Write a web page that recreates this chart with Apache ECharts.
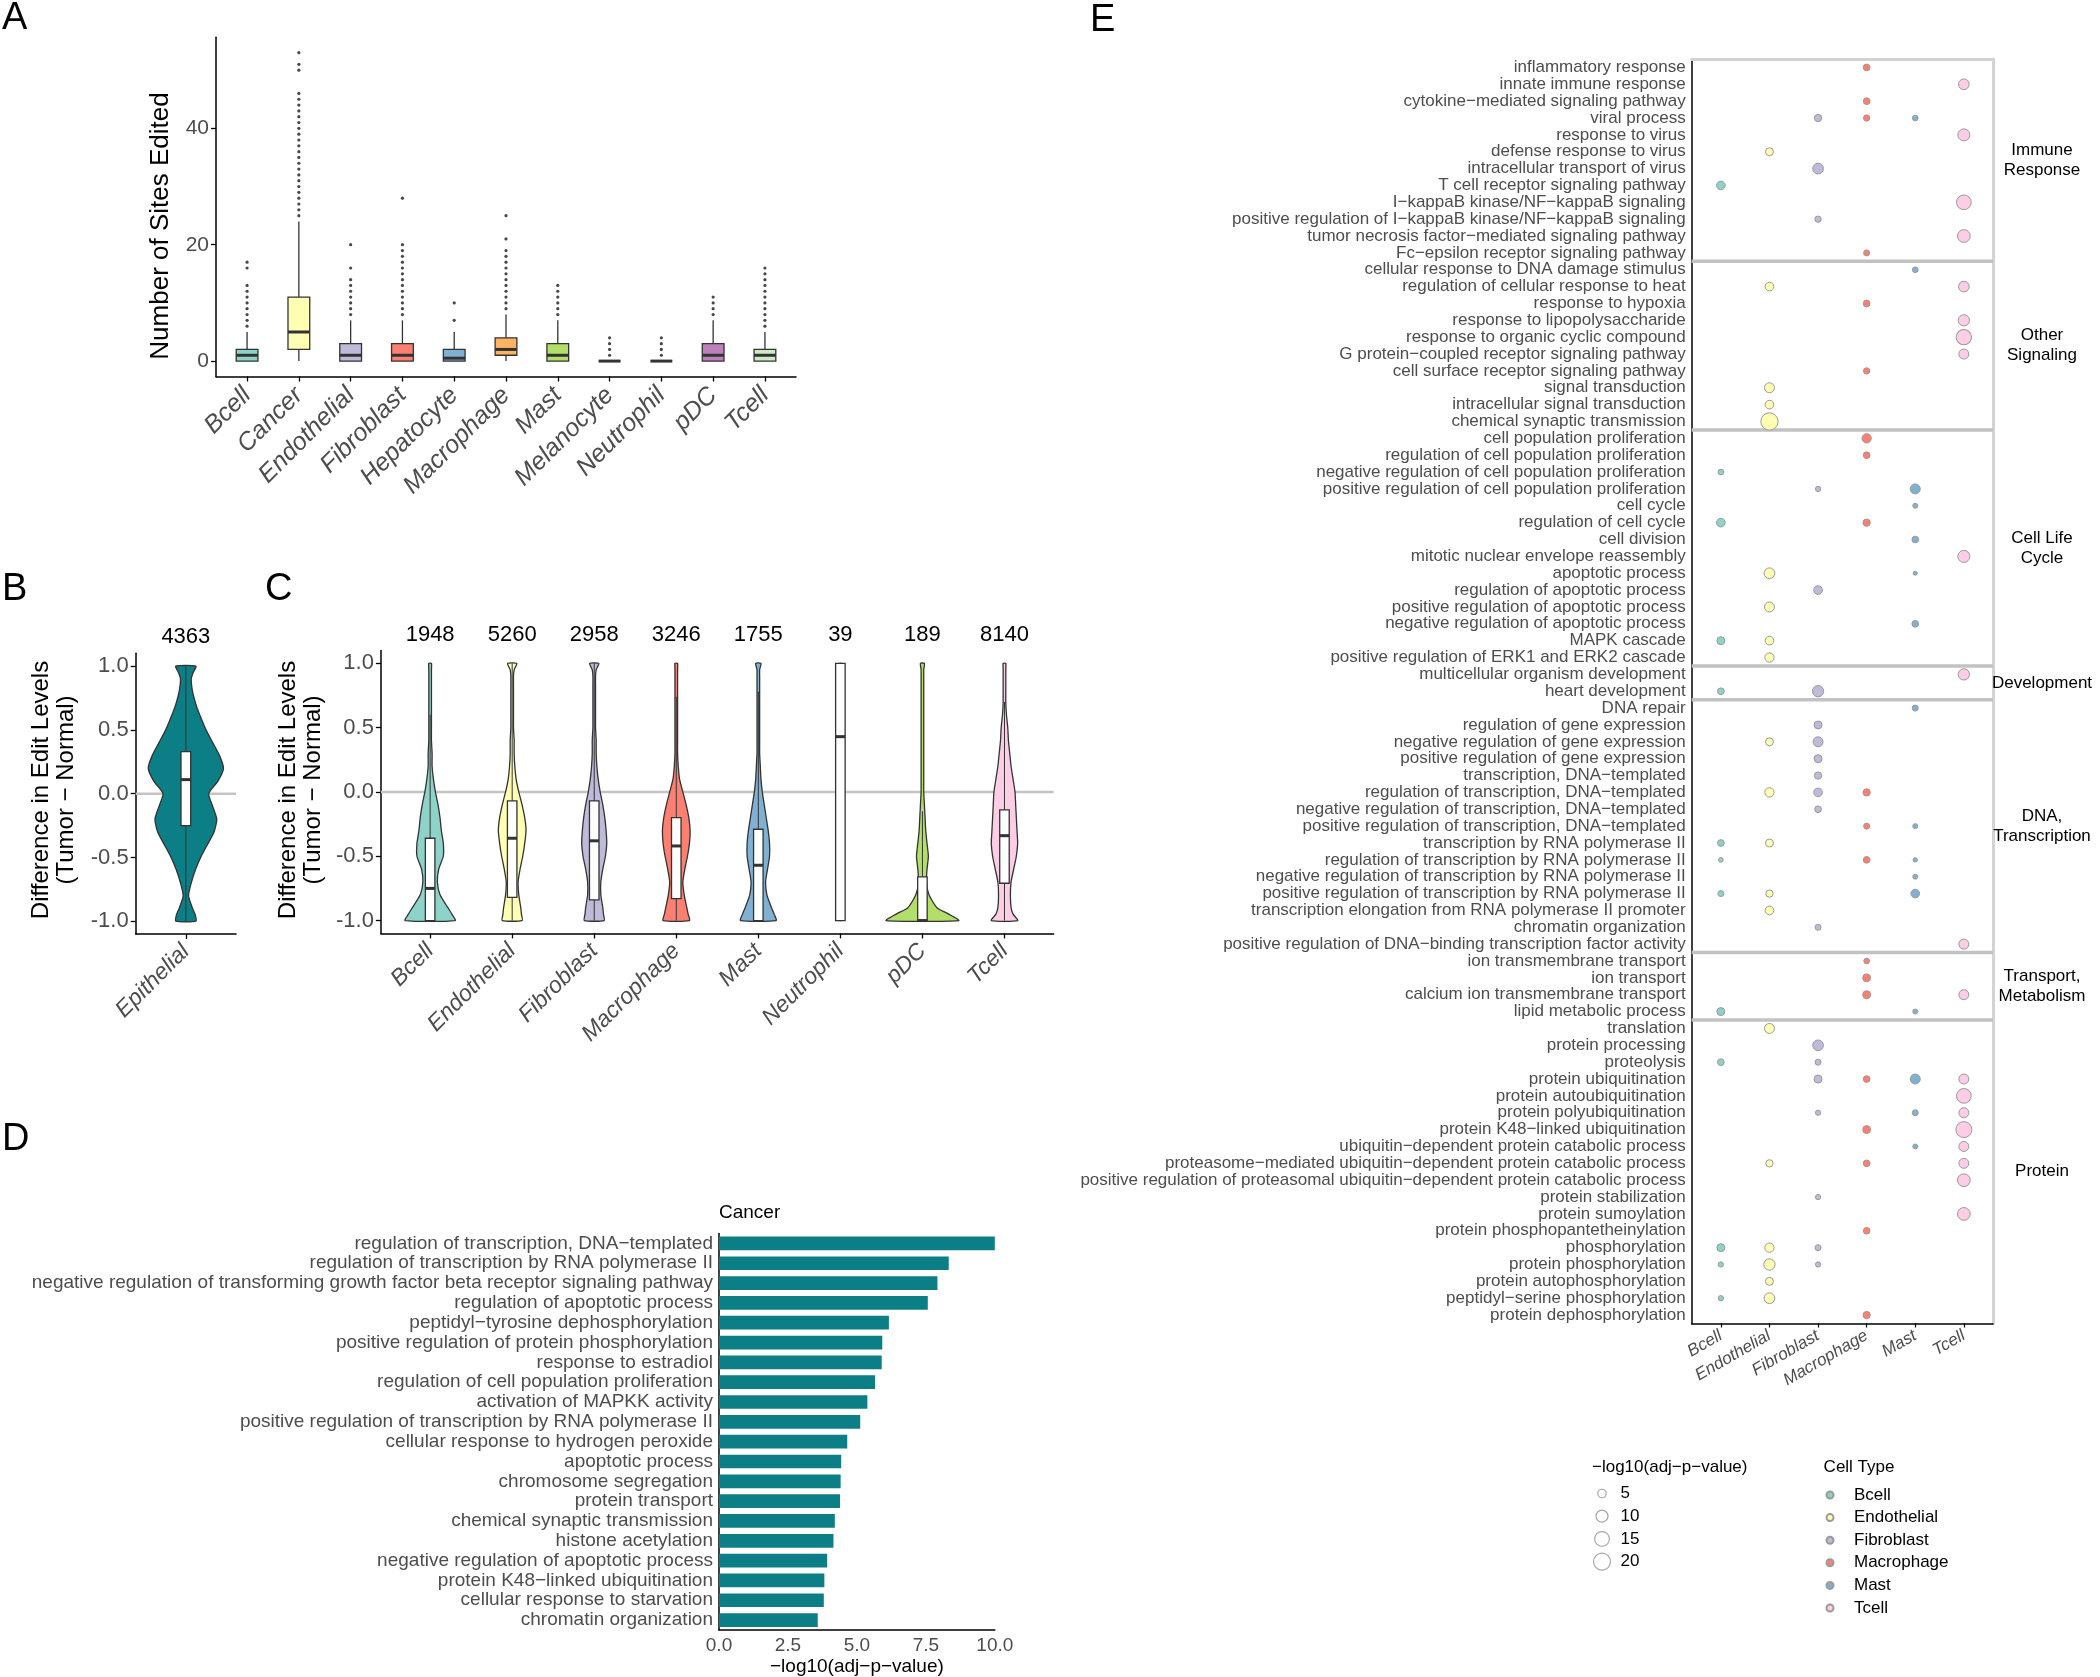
<!DOCTYPE html>
<html><head><meta charset="utf-8">
<script src="https://cdn.jsdelivr.net/npm/echarts@6/dist/echarts.min.js"></script>
<style>html,body{margin:0;padding:0;background:#fff}#c{width:2100px;height:1677px}</style>
</head><body><div id="c"></div>
<script>
// ---------------- DATA ----------------
// Panel A
const A_CATS = ['Bcell','Cancer','Endothelial','Fibroblast','Hepatocyte','Macrophage','Mast','Melanocyte','Neutrophil','pDC','Tcell'];
const A_COLORS = ['#8DD3C7','#FFFFB3','#BEBADA','#FB8072','#80B1D3','#FDB462','#B3DE69','#FCCDE5','#D9D9D9','#BC80BD','#CCEBC5'];
const A_LO  = [0,0,0,0,0,0,0,0,0,0,0];
const A_Q1  = [0,2,0,0,0,1,0,0,0,0,0];
const A_MED = [1,5,1,1,0.5,2,1,0,0,1,1];
const A_Q3  = [2,11,3,3,2,4,3,0,0,3,2];
const A_HI  = [5,24,7,7,5,8,7,0,0,7,5];
const A_OUTLIERS = [
  [6,7,8,9,10,11,12,13,16,17],
  [25,26,27,28,29,30,31,32,33,34,35,36,37,38,39,40,41,42,43,44,45,46,50,51,53],
  [8,9,10,11,12,13,14,16,20],
  [8,9,10,11,12,13,14,15,16,17,18,19,20,28],
  [7,10],
  [9,10,11,12,13,14,15,16,17,18,19,21,25],
  [8,9,10,11,12,13],
  [1,2,3,4],
  [1,2,3,4],
  [8,9,10,11],
  [6,7,8,9,10,11,12,13,14,15,16]
];
const A_TICKS = [0,20,40];

// Panels B and C (violins)
const VIOLIN_LEVELS = [1.0,0.95,0.9,0.8,0.7,0.6,0.5,0.4,0.3,0.2,0.1,0.0,-0.1,-0.2,-0.3,-0.4,-0.5,-0.6,-0.7,-0.8,-0.9,-0.95,-1.0];
const DIFF_TICKS = [-1,-0.5,0,0.5,1];
const B_CATS = ['Epithelial'];
const B_COUNTS = [4363];
const B_COLORS = ['#0b7e86'];
const B_DENSITY = [[15,11,8,10,15,22,30,40,50,56,48,34,40,46,42,32,22,14,8,4,10,14,15]];
const B_LO = [-1], B_Q1 = [-0.25], B_MED = [0.11], B_Q3 = [0.33], B_HI = [1];

const C_CATS = ['Bcell','Endothelial','Fibroblast','Macrophage','Mast','Neutrophil','pDC','Tcell'];
const C_COUNTS = [1948,5260,2958,3246,1755,39,189,8140];
const C_COLORS = ['#8DD3C7','#FFFFB3','#BEBADA','#FB8072','#80B1D3','#FDB462','#B3DE69','#FCCDE5'];
const C_DENSITY = [
  [2,2,2,2,2,2,2,2,3,3,5,8,12,15,17,20,20,13,11,15,27,33,38],
  [7,3,2,2,2,2,2,3,3,4,6,10,15,19,21,19,16,12,9,10,13,14,15],
  [7,3,2,2,2,2,2,3,3,4,6,9,13,16,18,19,17,13,10,10,13,14,15],
  [2,2,2,2,2,2,2,2,2,3,5,10,15,19,21,20,17,13,10,12,16,18,20],
  [4,2,2,2,2,2,2,2,2,3,4,6,9,12,15,17,17,14,11,13,20,24,27],
  [1,1,1,1,1,1,1,1,1,1,1,1,1,1,1,1,1,1,1,1,1,1,1],
  [3,2,2,2,2,2,2,2,2,2,2,2,3,4,5,7,9,7,6,10,22,40,55],
  [2,2,2,2,2,3,5,6,8,10,13,16,17,18,19,20,18,14,10,9,10,13,20]
];
const C_LO  = [-1,-1,-1,-1,-1,-1,-1,-1];
const C_Q1  = [-1,-0.82,-0.84,-0.83,-1,-1,-1,-0.71];
const C_MED = [-0.75,-0.36,-0.38,-0.42,-0.57,0.43,-1,-0.34];
const C_Q3  = [-0.36,-0.07,-0.07,-0.2,-0.29,1,-0.66,-0.14];
const C_HI  = [0.6,1,1,0.74,0.78,1,-0.15,0.7];

// Panel D
const D_TITLE = 'Cancer';
const D_TERMS = [
  'regulation of transcription, DNA−templated',
  'regulation of transcription by RNA polymerase II',
  'negative regulation of transforming growth factor beta receptor signaling pathway',
  'regulation of apoptotic process',
  'peptidyl−tyrosine dephosphorylation',
  'positive regulation of protein phosphorylation',
  'response to estradiol',
  'regulation of cell population proliferation',
  'activation of MAPKK activity',
  'positive regulation of transcription by RNA polymerase II',
  'cellular response to hydrogen peroxide',
  'apoptotic process',
  'chromosome segregation',
  'protein transport',
  'chemical synaptic transmission',
  'histone acetylation',
  'negative regulation of apoptotic process',
  'protein K48−linked ubiquitination',
  'cellular response to starvation',
  'chromatin organization'
];
const D_VALUES = [10.0,8.33,7.92,7.57,6.16,5.92,5.90,5.66,5.38,5.12,4.65,4.43,4.41,4.39,4.20,4.15,3.92,3.82,3.80,3.58];

// Panel E
const E_TERMS = [
  'inflammatory response','innate immune response','cytokine−mediated signaling pathway','viral process',
  'response to virus','defense response to virus','intracellular transport of virus','T cell receptor signaling pathway',
  'I−kappaB kinase/NF−kappaB signaling','positive regulation of I−kappaB kinase/NF−kappaB signaling',
  'tumor necrosis factor−mediated signaling pathway','Fc−epsilon receptor signaling pathway',
  'cellular response to DNA damage stimulus','regulation of cellular response to heat','response to hypoxia',
  'response to lipopolysaccharide','response to organic cyclic compound','G protein−coupled receptor signaling pathway',
  'cell surface receptor signaling pathway','signal transduction','intracellular signal transduction','chemical synaptic transmission',
  'cell population proliferation','regulation of cell population proliferation','negative regulation of cell population proliferation',
  'positive regulation of cell population proliferation','cell cycle','regulation of cell cycle','cell division',
  'mitotic nuclear envelope reassembly','apoptotic process','regulation of apoptotic process','positive regulation of apoptotic process',
  'negative regulation of apoptotic process','MAPK cascade','positive regulation of ERK1 and ERK2 cascade',
  'multicellular organism development','heart development',
  'DNA repair','regulation of gene expression','negative regulation of gene expression','positive regulation of gene expression',
  'transcription, DNA−templated','regulation of transcription, DNA−templated','negative regulation of transcription, DNA−templated',
  'positive regulation of transcription, DNA−templated','transcription by RNA polymerase II','regulation of transcription by RNA polymerase II',
  'negative regulation of transcription by RNA polymerase II','positive regulation of transcription by RNA polymerase II',
  'transcription elongation from RNA polymerase II promoter','chromatin organization',
  'positive regulation of DNA−binding transcription factor activity',
  'ion transmembrane transport','ion transport','calcium ion transmembrane transport','lipid metabolic process',
  'translation','protein processing','proteolysis','protein ubiquitination','protein autoubiquitination','protein polyubiquitination',
  'protein K48−linked ubiquitination','ubiquitin−dependent protein catabolic process',
  'proteasome−mediated ubiquitin−dependent protein catabolic process',
  'positive regulation of proteasomal ubiquitin−dependent protein catabolic process',
  'protein stabilization','protein sumoylation','protein phosphopantetheinylation','phosphorylation','protein phosphorylation',
  'protein autophosphorylation','peptidyl−serine phosphorylation','protein dephosphorylation'
];
const E_GROUP_NAMES = ['Immune\nResponse','Other\nSignaling','Cell Life\nCycle','Development','DNA,\nTranscription','Transport,\nMetabolism','Protein'];
const E_GROUP_SIZES = [12,10,14,2,15,4,18];
const E_CATS = ['Bcell','Endothelial','Fibroblast','Macrophage','Mast','Tcell'];
const E_COLORS = ['#8DD3C7','#FFFFB3','#BEBADA','#FB8072','#80B1D3','#FCCDE5'];
// [row number (1-based, top to bottom), -log10(adj-p-value)]
const E_BCELL = [[8,5.2],[25,2.25],[28,5.2],[35,4.4],[38,3.1],[47,3.1],[48,1.5],[50,2.5],[57,4.4],[60,3.1],[71,4.4],[72,1.9],[74,1.9]];
const E_ENDOTHELIAL = [[6,4.4],[14,5.2],[20,6.9],[21,5.2],[22,20.7],[31,7.9],[33,6.9],[35,5.2],[36,6.0],[41,4.4],[44,6.0],[47,4.4],[50,3.7],[51,5.2],[58,6.9],[66,3.7],[71,6.0],[72,8.8],[73,4.4],[74,7.9]];
const E_FIBROBLAST = [[4,3.7],[7,7.9],[10,2.75],[26,1.9],[32,5.2],[38,8.8],[40,4.4],[41,6.9],[42,4.4],[43,3.7],[44,5.2],[45,3.1],[52,2.5],[59,7.9],[60,2.5],[61,4.4],[63,1.9],[68,1.9],[71,2.5],[72,1.9]];
const E_MACROPHAGE = [[1,3.1],[3,3.1],[4,2.75],[12,2.5],[15,3.1],[19,2.75],[23,6.0],[24,3.1],[28,3.7],[44,3.7],[46,2.5],[48,3.1],[54,2.25],[55,4.4],[56,4.4],[61,3.1],[64,4.4],[66,3.1],[70,3.1],[75,3.7]];
const E_MAST = [[4,2.25],[13,2.25],[26,6.9],[27,1.7],[29,3.1],[31,1.1],[34,3.1],[39,2.5],[46,1.7],[48,1.3],[49,1.7],[50,5.2],[57,1.7],[61,6.9],[63,2.5],[65,1.7]];
const E_TCELL = [[2,7.9],[5,10],[9,15],[11,11.2],[14,7.9],[16,8.8],[17,16.2],[18,6.9],[30,10],[37,8.8],[53,6.9],[56,6.9],[61,6.9],[62,15],[63,6.9],[64,17.7],[65,6.9],[66,6.9],[67,11.2],[69,11.2]];
const E_POINTS = [E_BCELL,E_ENDOTHELIAL,E_FIBROBLAST,E_MACROPHAGE,E_MAST,E_TCELL];
const SIZE_LEGEND_VALUES = [5,10,15,20];
const SIZE_LEGEND_TITLE = '−log10(adj−p−value)';
const COLOR_LEGEND_TITLE = 'Cell Type';

// ---------------- STYLE / LAYOUT ----------------
const FONT = 'Liberation Sans';
const TXT_GREY = '#4d4d4d';
const SIZE_K = 3.8;
const W_MAX = 56, VIOLIN_HALF = 0.45;
const symSize = v => SIZE_K * Math.sqrt(v);

const axisLineBlack = {show:true, onZero:false, lineStyle:{color:'#000', width:1.5}};
const noSplit = {show:false};

function boxRenderer(colors, halfW, medW, lw) {
  return function (params, api) {
    const i = params.dataIndex;
    const x = api.value(0), lo = api.value(1), q1 = api.value(2), md = api.value(3), q3 = api.value(4), hi = api.value(5);
    const c = (a, b) => api.coord([a, b]);
    const top = c(x, hi), q3c = c(x, q3), q1c = c(x, q1), bot = c(x, lo);
    const tl = c(x - halfW, q3), br = c(x + halfW, q1);
    const ml = c(x - halfW, md), mr = c(x + halfW, md);
    return {type:'group', children:[
      {type:'line', shape:{x1:top[0], y1:top[1], x2:q3c[0], y2:q3c[1]}, style:{stroke:'#333', lineWidth:lw}},
      {type:'line', shape:{x1:q1c[0], y1:q1c[1], x2:bot[0], y2:bot[1]}, style:{stroke:'#333', lineWidth:lw}},
      {type:'rect', shape:{x:tl[0], y:tl[1], width:br[0]-tl[0], height:br[1]-tl[1]}, style:{fill:colors[i], stroke:'#333', lineWidth:1.3}},
      {type:'line', shape:{x1:ml[0], y1:ml[1], x2:mr[0], y2:mr[1]}, style:{stroke:'#333', lineWidth:medW}}
    ]};
  };
}
function violinRenderer(density, colors) {
  return function (params, api) {
    const i = params.dataIndex, x = api.value(0), d = density[i];
    const pts = [];
    for (let k = 0; k < VIOLIN_LEVELS.length; k++) pts.push(api.coord([x + d[k] / W_MAX * VIOLIN_HALF, VIOLIN_LEVELS[k]]));
    for (let k = VIOLIN_LEVELS.length - 1; k >= 0; k--) pts.push(api.coord([x - d[k] / W_MAX * VIOLIN_HALF, VIOLIN_LEVELS[k]]));
    return {type:'polygon', shape:{points:pts, smooth:0.2}, style:{fill:colors[i], stroke:'#333', lineWidth:1.3}};
  };
}
function hlineRenderer(color, width) {
  return function (params, api) {
    const cs = params.coordSys;
    const y = api.coord([0, api.value(1)])[1];
    return {type:'line', shape:{x1:cs.x, y1:y, x2:cs.x + cs.width, y2:y}, style:{stroke:color, lineWidth:width}};
  };
}
const idx = n => Array.from({length:n}, (_, i) => i);
const boxData = (lo, q1, md, q3, hi, x0) => lo.map((_, i) => [i + x0, lo[i], q1[i], md[i], q3[i], hi[i]]);

// group boundaries & centers for E
const E_CUM = []; E_GROUP_SIZES.reduce((s, n) => { E_CUM.push(s + n); return s + n; }, 0);
const E_CENTERS = E_GROUP_SIZES.map((n, i) => E_CUM[i] - n / 2);
const E_TOTAL = E_CUM[E_CUM.length - 1];

const catLabel = (cats) => (v) => { const k = Math.round(v); return cats[k] !== undefined ? cats[k] : ''; };

const option = {
  animation: false,
  backgroundColor: '#fff',
  textStyle: {fontFamily: FONT},
  grid: [
    {left:216, top:37.3, width:580, height:339.2},        // A
    {left:135.7, top:653.3, width:100.3, height:280.7},   // B
    {left:380.9, top:650.5, width:672.8, height:282.9},   // C
    {left:719, top:1233.5, width:275.8, height:397.5},    // D
    {left:1691.7, top:59, width:301.3, height:1264.5}     // E
  ],
  xAxis: [
    {type:'value', gridIndex:0, min:-0.6, max:A_CATS.length - 0.4, axisLine:axisLineBlack, splitLine:noSplit,
     axisTick:{customValues:idx(A_CATS.length), length:5, lineStyle:{color:'#000', width:1.3}},
     axisLabel:{customValues:idx(A_CATS.length), formatter:catLabel(A_CATS), rotate:45, fontStyle:'italic', fontSize:25, color:TXT_GREY, margin:15}},
    {type:'value', gridIndex:1, min:0.4, max:1.6, axisLine:axisLineBlack, splitLine:noSplit,
     axisTick:{customValues:[1], length:5, lineStyle:{color:'#000', width:1.3}},
     axisLabel:{customValues:[1], formatter:() => B_CATS[0], rotate:45, fontStyle:'italic', fontSize:23, color:TXT_GREY, margin:14}},
    {type:'value', gridIndex:1, position:'top', min:0.4, max:1.6, axisLine:{show:false, onZero:false}, axisTick:{show:false}, splitLine:noSplit,
     axisLabel:{customValues:[1], formatter:() => String(B_COUNTS[0]), fontSize:22, color:'#000', margin:5}},
    {type:'value', gridIndex:2, min:-0.6, max:C_CATS.length - 0.4, axisLine:axisLineBlack, splitLine:noSplit,
     axisTick:{customValues:idx(C_CATS.length), length:5, lineStyle:{color:'#000', width:1.3}},
     axisLabel:{customValues:idx(C_CATS.length), formatter:catLabel(C_CATS), rotate:45, fontStyle:'italic', fontSize:23, color:TXT_GREY, margin:14}},
    {type:'value', gridIndex:2, position:'top', min:-0.6, max:C_CATS.length - 0.4, axisLine:{show:false, onZero:false}, axisTick:{show:false}, splitLine:noSplit,
     axisLabel:{customValues:idx(C_CATS.length), formatter:(v) => String(C_COUNTS[Math.round(v)]), fontSize:22, color:'#000', margin:5}},
    {type:'value', gridIndex:3, min:0, max:10, interval:2.5, axisLine:axisLineBlack, splitLine:noSplit,
     axisTick:{length:4, lineStyle:{color:'#000', width:1.3}},
     axisLabel:{formatter:(v) => v.toFixed(1), fontSize:19, color:TXT_GREY, margin:6},
     name:'−log10(adj−p−value)', nameLocation:'middle', nameGap:27, nameTextStyle:{fontSize:19, color:'#000'}},
    {type:'value', gridIndex:4, min:-0.6, max:E_CATS.length - 0.4, axisLine:axisLineBlack, splitLine:noSplit,
     axisTick:{customValues:idx(E_CATS.length), length:4, lineStyle:{color:'#000', width:1.2}},
     axisLabel:{customValues:idx(E_CATS.length), formatter:catLabel(E_CATS), rotate:30, fontStyle:'italic', fontSize:17, color:TXT_GREY, margin:11}},
    {type:'value', gridIndex:4, position:'top', min:-0.6, max:E_CATS.length - 0.4, axisLine:{show:true, onZero:false, lineStyle:{color:'#d3d3d3', width:3}},
     axisTick:{show:false}, axisLabel:{show:false}, splitLine:noSplit}
  ],
  yAxis: [
    {type:'value', gridIndex:0, min:-2.65, max:55.65, axisLine:axisLineBlack, splitLine:noSplit,
     axisTick:{customValues:A_TICKS, length:5, lineStyle:{color:'#000', width:1.3}},
     axisLabel:{customValues:A_TICKS, fontSize:21, color:TXT_GREY, margin:7}},
    {type:'value', gridIndex:1, min:-1.1, max:1.1, axisLine:axisLineBlack, splitLine:noSplit,
     axisTick:{customValues:DIFF_TICKS, length:5, lineStyle:{color:'#000', width:1.3}},
     axisLabel:{customValues:DIFF_TICKS, formatter:(v) => v.toFixed(1), fontSize:22, color:TXT_GREY, margin:7}},
    {type:'value', gridIndex:2, min:-1.1, max:1.1, axisLine:axisLineBlack, splitLine:noSplit,
     axisTick:{customValues:DIFF_TICKS, length:5, lineStyle:{color:'#000', width:1.3}},
     axisLabel:{customValues:DIFF_TICKS, formatter:(v) => v.toFixed(1), fontSize:22, color:TXT_GREY, margin:7}},
    {type:'category', gridIndex:3, data:D_TERMS, inverse:true, axisLine:axisLineBlack, splitLine:noSplit,
     axisTick:{alignWithLabel:true, length:4, lineStyle:{color:'#000', width:1.3}},
     axisLabel:{interval:0, fontSize:19, color:TXT_GREY, margin:6}},
    {type:'category', gridIndex:4, data:E_TERMS, inverse:true, axisLine:axisLineBlack, splitLine:noSplit,
     axisTick:{alignWithLabel:true, length:3, lineStyle:{color:'#000', width:1.2}},
     axisLabel:{interval:0, fontSize:17, color:TXT_GREY, margin:6}},
    {type:'value', gridIndex:4, position:'right', min:0, max:E_TOTAL, inverse:true,
     axisLine:{show:true, onZero:false, lineStyle:{color:'#d3d3d3', width:3}}, axisTick:{show:false}, splitLine:noSplit,
     axisLabel:{customValues:E_CENTERS, formatter:(v) => E_GROUP_NAMES[E_CENTERS.indexOf(v)] || '', align:'center', margin:49, fontSize:17, lineHeight:20, color:'#000'}}
  ],
  legend: {
    data: E_CATS, orient:'vertical', left:1820.5, top:1481.5, itemWidth:38, itemHeight:7, itemGap:5.6,
    icon:'circle', selectedMode:false, textStyle:{fontSize:17, color:'#000', lineHeight:17}
  },
  series: [
    // A
    {type:'custom', name:'A boxes', xAxisIndex:0, yAxisIndex:0, encode:{x:0, y:[1,2,3,4,5]},
     data: boxData(A_LO, A_Q1, A_MED, A_Q3, A_HI, 0), renderItem: boxRenderer(A_COLORS, 0.21, 3, 1.3), z:3},
    {type:'scatter', name:'A outliers', xAxisIndex:0, yAxisIndex:0, symbolSize:3.2, itemStyle:{color:'#1a1a1a'},
     data: A_OUTLIERS.flatMap((arr, i) => arr.map(v => [i, v])), z:4},
    // B
    {type:'custom', name:'B zero', xAxisIndex:1, yAxisIndex:1, encode:{x:0, y:1}, data:[[1, 0]], renderItem: hlineRenderer('#c4c4c4', 2.5), z:1},
    {type:'custom', name:'B violin', xAxisIndex:1, yAxisIndex:1, encode:{x:0, y:1}, data:[[1, -1]], renderItem: violinRenderer(B_DENSITY, B_COLORS), z:2},
    {type:'custom', name:'B box', xAxisIndex:1, yAxisIndex:1, encode:{x:0, y:[1,2,3,4,5]},
     data: boxData(B_LO, B_Q1, B_MED, B_Q3, B_HI, 1), renderItem: boxRenderer(['#fff'], 0.058, 3, 1), z:3},
    // C
    {type:'custom', name:'C zero', xAxisIndex:3, yAxisIndex:2, encode:{x:0, y:1}, data:[[0, 0]], renderItem: hlineRenderer('#c4c4c4', 2.5), z:1},
    {type:'custom', name:'C violins', xAxisIndex:3, yAxisIndex:2, encode:{x:0, y:1}, data: C_CATS.map((_, i) => [i, -1]), renderItem: violinRenderer(C_DENSITY, C_COLORS), z:2},
    {type:'custom', name:'C boxes', xAxisIndex:3, yAxisIndex:2, encode:{x:0, y:[1,2,3,4,5]},
     data: boxData(C_LO, C_Q1, C_MED, C_Q3, C_HI, 0), renderItem: boxRenderer(C_CATS.map(() => '#fff'), 0.058, 3, 1), z:3},
    // D
    {type:'bar', name:'D bars', xAxisIndex:5, yAxisIndex:3, data:D_VALUES, barWidth:'69%', itemStyle:{color:'#0b7e86'}},
    // E separators
    {type:'custom', name:'E separators', xAxisIndex:6, yAxisIndex:5, encode:{x:0, y:1},
     data: E_CUM.slice(0, -1).map(v => [0, v]), renderItem: hlineRenderer('#c2c2c2', 3.5), z:1},
    // E dots
    ...E_CATS.map((name, j) => ({
      type:'scatter', name, xAxisIndex:6, yAxisIndex:4,
      data: E_POINTS[j].map(([row, v]) => [j, E_TERMS[row - 1], v]),
      symbolSize: (val) => symSize(val[2]),
      itemStyle:{color:E_COLORS[j], borderColor:'#9a9a9a', borderWidth:1, opacity:1}, z:5
    }))
  ],
  graphic: []
};

// --------- text elements ---------
const G = [];
const txt = (text, x, y, size, opts = {}) => G.push(Object.assign({
  type:'text', x, y, rotation: opts.rot || 0,
  style:{text, font: (opts.italic ? 'italic ' : '') + size + 'px "' + FONT + '"', fill: opts.fill || '#000',
         textAlign: opts.align || 'left', align: opts.align || 'left',
         textVerticalAlign: 'middle', verticalAlign:'middle', lineHeight: opts.lh || size}
}));
txt('A', 2, 19, 38); txt('B', 2, 590, 38); txt('C', 265, 590, 38); txt('D', 2, 1140, 38); txt('E', 1090, 21, 38);
txt('Number of Sites Edited', 161, 226, 26, {rot:Math.PI/2, align:'center'});
txt('Difference in Edit Levels\n(Tumor − Normal)', 54, 790, 24, {rot:Math.PI/2, align:'center', lh:25});
txt('Difference in Edit Levels\n(Tumor − Normal)', 301, 790, 24, {rot:Math.PI/2, align:'center', lh:25});
txt(D_TITLE, 719, 1213, 19);
// size legend
txt(SIZE_LEGEND_TITLE, 1592, 1467, 17);
const SIZE_ROW_Y = [1493.5, 1516.2, 1538.9, 1561.6];
SIZE_LEGEND_VALUES.forEach((v, i) => {
  G.push({type:'circle', x:1602, y:SIZE_ROW_Y[i], shape:{cx:0, cy:0, r:symSize(v) / 2}, style:{fill:'#fff', stroke:'#a6a6a6', lineWidth:1.2}});
  txt(String(v), 1620.6, SIZE_ROW_Y[i], 17);
});
txt(COLOR_LEGEND_TITLE, 1823.6, 1467, 17);
option.graphic = G;

const chart = echarts.init(document.getElementById('c'), null, {renderer:'canvas'});
chart.setOption(option);
</script></body></html>
